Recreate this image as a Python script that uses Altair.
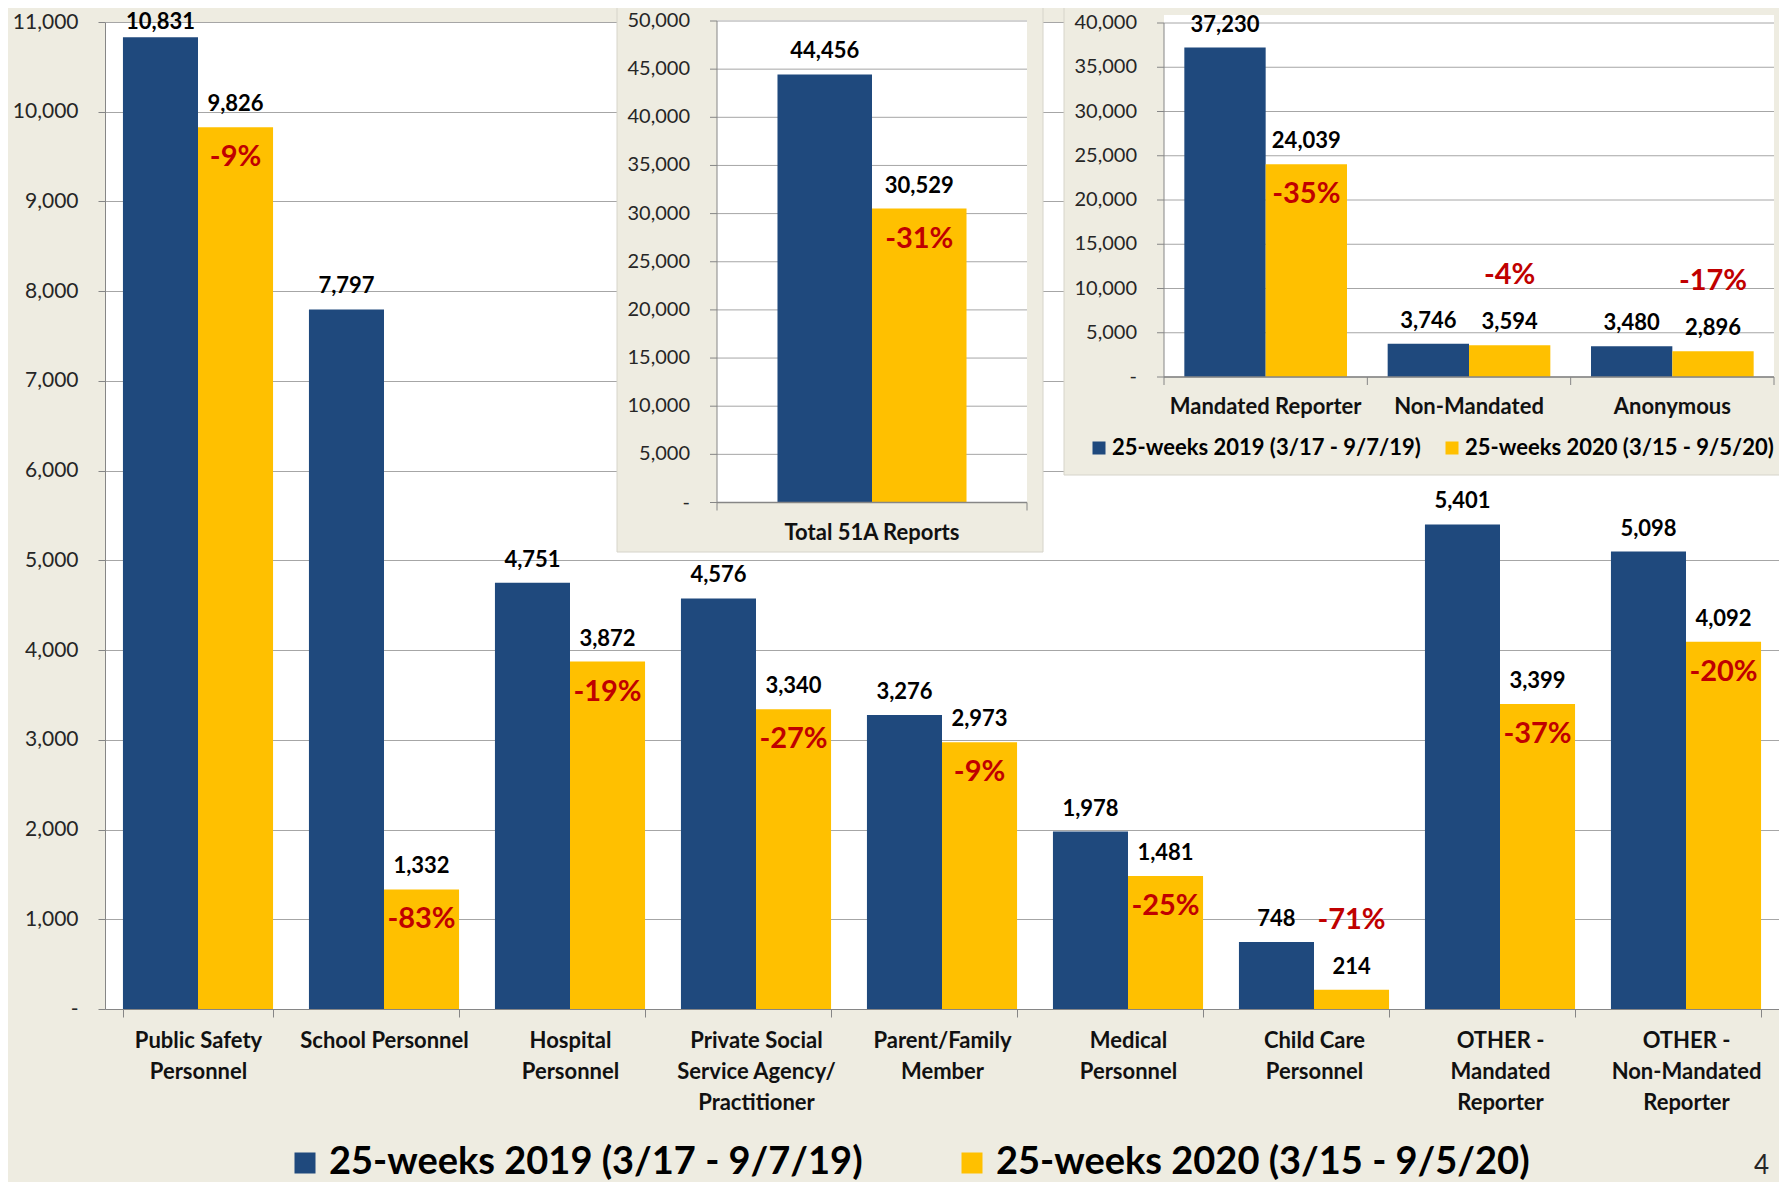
import altair as alt
import pandas as pd

# ---------------- data ----------------
series = ["25-weeks 2019 (3/17 - 9/7/19)", "25-weeks 2020 (3/15 - 9/5/20)"]

main_categories = [
    "Public Safety|Personnel", "School Personnel", "Hospital|Personnel",
    "Private Social|Service Agency/|Practitioner", "Parent/Family|Member",
    "Medical|Personnel", "Child Care|Personnel", "OTHER -|Mandated|Reporter",
    "OTHER -|Non-Mandated|Reporter",
]
main_2019 = [10831, 7797, 4751, 4576, 3276, 1978, 748, 5401, 5098]
main_2020 = [9826, 1332, 3872, 3340, 2973, 1481, 214, 3399, 4092]
main_pct = ["-9%", "-83%", "-19%", "-27%", "-9%", "-25%", "-71%", "-37%", "-20%"]
main_ticks = [0, 1000, 2000, 3000, 4000, 5000, 6000, 7000, 8000, 9000, 10000, 11000]

total_categories = ["Total 51A Reports"]
total_2019 = [44456]
total_2020 = [30529]
total_pct = ["-31%"]
total_ticks = [0, 5000, 10000, 15000, 20000, 25000, 30000, 35000, 40000, 45000, 50000]

type_categories = ["Mandated Reporter", "Non-Mandated", "Anonymous"]
type_2019 = [37230, 3746, 3480]
type_2020 = [24039, 3594, 2896]
type_pct = ["-35%", "-4%", "-17%"]
type_ticks = [0, 5000, 10000, 15000, 20000, 25000, 30000, 35000, 40000]

# ---------------- style ----------------
FONT = "Lato"
BLUE = "#1F497D"
YELLOW = "#FFC000"
RED = "#C00000"
BEIGE = "#EEECE1"
GRID = "#A6A6A6"
AXIS = "#868686"
LABEL = "#262626"
NB = "\u00a0"
ZERO_LABEL = "-" + NB + NB

W, H = 1674, 987


def long_table(cats, v19, v20, pct):
    rows = []
    for c, a, b, p in zip(cats, v19, v20, pct):
        rows.append({"cat": c, "series": series[0], "value": a, "pct": ""})
        rows.append({"cat": c, "series": series[1], "value": b, "pct": p})
    return pd.DataFrame(rows)


def value_layers(df, x, xo, y, ly, dmax):
    # value labels sit above the bars but are kept inside the chart area (like Excel)
    vals = alt.Chart(df).transform_calculate(
        ly=f"min(datum.value, {dmax} * 0.977)"
    ).mark_text(
        font=FONT, fontSize=22, fontWeight="bold", color="black",
        baseline="alphabetic", dy=-16,
    ).encode(x=x, xOffset=xo, y=ly, text=alt.Text("value:Q", format=","))
    pct_in = alt.Chart(df).transform_filter(
        f"datum.pct != '' && datum.value / {dmax} >= 0.1"
    ).mark_text(
        font=FONT, fontSize=29, fontWeight="bold", color=RED, baseline="middle", dy=30,
    ).encode(x=x, xOffset=xo, y=y, text="pct:N")
    pct_out = alt.Chart(df).transform_filter(
        f"datum.pct != '' && datum.value / {dmax} < 0.1"
    ).mark_text(
        font=FONT, fontSize=29, fontWeight="bold", color=RED, baseline="middle", dy=-70,
    ).encode(x=x, xOffset=xo, y=y, text="pct:N")
    return [vals, pct_in, pct_out]


# ---------------- main chart ----------------
MAIN_MAX = 11000
main_df = long_table(main_categories, main_2019, main_2020, main_pct)

xm = alt.X(
    "cat:N", title=None,
    scale=alt.Scale(domain=main_categories, paddingInner=0.193, paddingOuter=0.0965),
    axis=alt.Axis(
        labelExpr="split(datum.label, '|')", labelAngle=0, labelFont=FONT,
        labelFontSize=22, labelFontWeight="bold", labelColor="#111111",
        labelLineHeight=31, labelPadding=13, labelLimit=400, tickBand="extent",
        tickSize=8, tickColor=AXIS, domainColor=AXIS, grid=False,
    ),
)
xom = alt.XOffset("series:N", scale=alt.Scale(domain=series, paddingInner=0, paddingOuter=0))
main_yscale = alt.Scale(domain=[0, MAIN_MAX], nice=False, zero=True)
main_yaxis = alt.Axis(
    values=main_ticks,
    labelExpr=f"datum.value == 0 ? '{ZERO_LABEL}' : format(datum.value, ',')",
    grid=True, gridColor=GRID, gridWidth=1, domainColor=AXIS, tickColor=AXIS,
    tickSize=7, labelPadding=20, labelFont=FONT, labelFontSize=21, labelColor=LABEL,
)
ym = alt.Y("value:Q", title=None, scale=main_yscale, axis=main_yaxis)
lym = alt.Y("ly:Q", title=None, scale=main_yscale, axis=main_yaxis)
cm = alt.Color(
    "series:N",
    scale=alt.Scale(domain=series, range=[BLUE, YELLOW]),
    legend=alt.Legend(
        title=None, orient="none", legendX=181, legendY=1122, direction="horizontal",
        symbolType="square", symbolSize=441, symbolStrokeWidth=0, symbolOpacity=1,
        labelFont=FONT, labelFontSize=38, labelFontWeight="bold", labelColor="black",
        labelLimit=1000, labelOffset=5, columnPadding=90,
    ),
)

main_bars = alt.Chart(main_df).mark_bar().encode(x=xm, xOffset=xom, y=ym, color=cm)
page_num = alt.Chart(alt.Data(values=[{"k": 1}])).mark_text(
    text="4", font=FONT, fontSize=26, color=LABEL, align="right", baseline="middle"
).encode(x=alt.value(1664), y=alt.value(1144))
main = alt.layer(main_bars, *value_layers(main_df, xm, xom, ym, lym, MAIN_MAX), page_num)


# ---------------- insets ----------------
def inset(cats, v19, v20, pct, ticks, dmax, box, panel, xr, yr, pad_in, pad_out, legend):
    df = long_table(cats, v19, v20, pct)
    xs = alt.Scale(domain=cats, range=xr, paddingInner=pad_in, paddingOuter=pad_out)
    ys = alt.Scale(domain=[0, dmax], range=yr, nice=False, zero=True)
    x = alt.X("cat:N", scale=xs, axis=None)
    xo = alt.XOffset("series:N", scale=alt.Scale(domain=series, paddingInner=0, paddingOuter=0))
    y = alt.Y("value:Q", scale=ys, axis=None)
    ly = alt.Y("ly:Q", scale=ys, axis=None)
    col = alt.Color("series:N", scale=alt.Scale(domain=series, range=[BLUE, YELLOW]), legend=legend)
    one = alt.Data(values=[{"k": 1}])

    box_l = alt.Chart(one).mark_rect(color=BEIGE, stroke="#D6D4CA", strokeWidth=1).encode(
        x=alt.value(box[0]), x2=alt.value(box[2]), y=alt.value(box[1]), y2=alt.value(box[3]))
    panel_l = alt.Chart(one).mark_rect(color="white").encode(
        x=alt.value(panel[0]), x2=alt.value(panel[2]), y=alt.value(panel[1]), y2=alt.value(panel[3]))

    tdf = pd.DataFrame({"t": ticks})
    yt = alt.Y("t:Q", scale=ys, axis=None)
    grid = alt.Chart(tdf).mark_rule(color=GRID, strokeWidth=1).encode(
        y=yt, x=alt.value(xr[0]), x2=alt.value(xr[1]))
    yticks = alt.Chart(tdf).mark_rule(color=AXIS, strokeWidth=1).encode(
        y=yt, x=alt.value(xr[0] - 7), x2=alt.value(xr[0]))
    ylabels = alt.Chart(tdf).transform_calculate(
        lab=f"datum.t == 0 ? '{ZERO_LABEL}' : format(datum.t, ',')"
    ).mark_text(align="right", baseline="middle", font=FONT, fontSize=20, color=LABEL).encode(
        y=yt, x=alt.value(xr[0] - 27), text="lab:N")
    yaxis = alt.Chart(one).mark_rule(color=AXIS, strokeWidth=1).encode(
        x=alt.value(xr[0]), y=alt.value(yr[1]), y2=alt.value(yr[0]))
    xbase = alt.Chart(one).mark_rule(color=AXIS, strokeWidth=1.5).encode(
        x=alt.value(xr[0]), x2=alt.value(xr[1]), y=alt.value(yr[0]))
    n = len(cats)
    bnd = pd.DataFrame({"px": [xr[0] + i * (xr[1] - xr[0]) / n for i in range(n + 1)]})
    xticks = alt.Chart(bnd).mark_rule(color=AXIS, strokeWidth=1).encode(
        x=alt.X("px:Q", scale=None, axis=None), y=alt.value(yr[0]), y2=alt.value(yr[0] + 8))

    bars = alt.Chart(df).mark_bar().encode(x=x, xOffset=xo, y=y, color=col)
    cat_df = pd.DataFrame({"cat": cats})
    catlabels = alt.Chart(cat_df).mark_text(
        font=FONT, fontSize=22, fontWeight="bold", color="#111111", baseline="middle"
    ).encode(x=x, y=alt.value(yr[0] + 30), text="cat:N")

    return alt.layer(box_l, panel_l, grid, yticks, ylabels, yaxis, bars, xbase, xticks,
                     *value_layers(df, x, xo, y, ly, dmax), catlabels)


inset_total = inset(
    total_categories, total_2019, total_2020, total_pct, total_ticks, 50000,
    box=(512, -22, 938, 530), panel=(612, -2, 922, 481),
    xr=[612, 922], yr=[480.5, -1], pad_in=0, pad_out=0.32, legend=None,
)

inset_type = inset(
    type_categories, type_2019, type_2020, type_pct, type_ticks, 40000,
    box=(959, -22, 1700, 453), panel=(1059, -7, 1669, 355),
    xr=[1059, 1669], yr=[355, 1], pad_in=0.2, pad_out=0.1,
    legend=alt.Legend(
        title=None, orient="none", legendX=983, legendY=415, direction="horizontal",
        symbolType="square", symbolSize=169, symbolStrokeWidth=0, symbolOpacity=1,
        labelFont=FONT, labelFontSize=22, labelFontWeight="bold", labelColor="black",
        labelLimit=1000, labelOffset=2, columnPadding=20,
    ),
)

chart = alt.layer(main, inset_total, inset_type).resolve_scale(
    x="independent", y="independent", xOffset="independent", color="independent"
).properties(
    width=W, height=H,
    autosize=alt.AutoSizeParams(type="none"),
    padding={"left": 97, "top": 14, "right": 0, "bottom": 173},
    background=BEIGE,
).configure_view(fill="white", stroke=None)

chart.save("out.html", embed_options={"renderer": "svg", "actions": False})
